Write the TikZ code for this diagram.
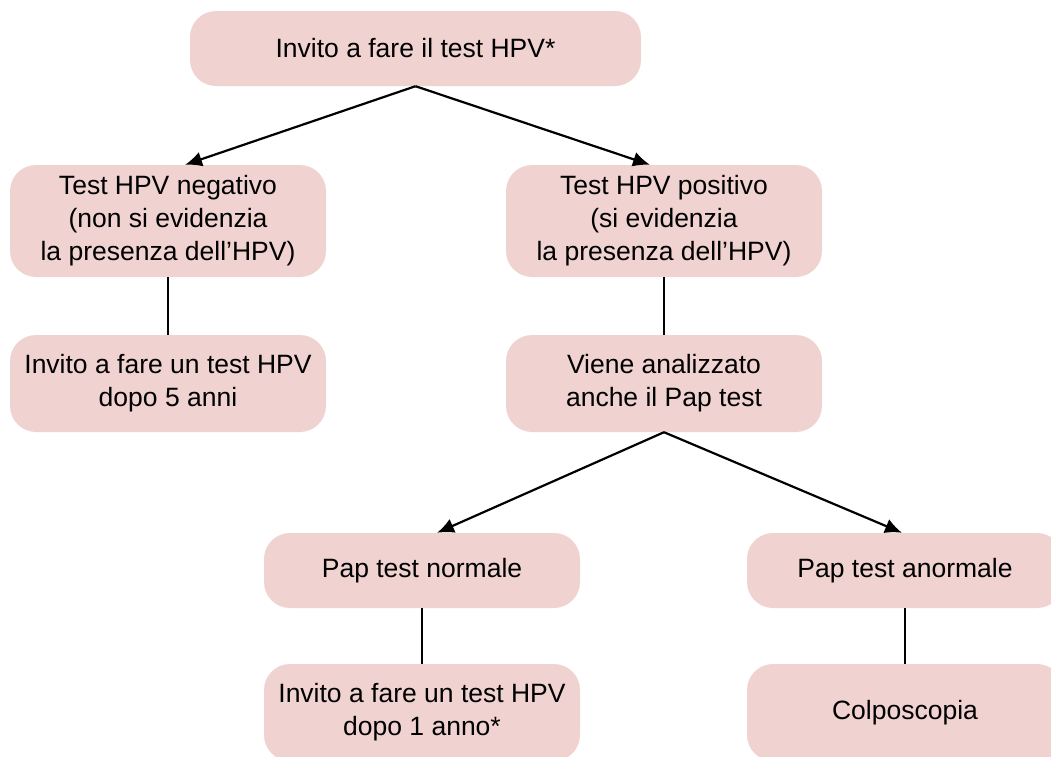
\documentclass[tikz,border=0pt]{standalone}
\usepackage{fontspec}
\setmainfont{Liberation Sans}
\usepackage{xcolor}
\definecolor{boxpink}{RGB}{240,211,209}
\usetikzlibrary{arrows,arrows.meta}

\begin{document}
\begin{tikzpicture}[
	x=1pt, y=-1pt,
	flowbox/.style={rounded corners=26pt, fill=boxpink, minimum width=316pt, inner sep=0, align=center, font=\fontsize{26.5}{33}\selectfont},
	link/.style={line width=2.2pt},
	arr/.style={line width=2.2pt, -{Latex[length=17pt, width=15pt]}}
]
\useasboundingbox (0,0) rectangle (1051,756);

\node[flowbox, minimum width=451pt, minimum height=75pt] (start) at (415.5,48.5) {Invito a fare il test HPV*};
\node[flowbox, minimum height=112pt] (neg) at (168,221) {Test HPV negativo\\(non si evidenzia\\la presenza dell’HPV)};
\node[flowbox, minimum height=112pt] (pos) at (664,221) {Test HPV positivo\\(si evidenzia\\la presenza dell’HPV)};
\node[flowbox, minimum height=97pt] (inv5) at (168,383.5) {Invito a fare un test HPV\\dopo 5 anni};
\node[flowbox, minimum height=97pt] (pap) at (664,383.5) {Viene analizzato\\anche il Pap test};
\node[flowbox, minimum height=75pt] (norm) at (422,570.5) {Pap test normale};
\node[flowbox, minimum height=75pt] (anorm) at (905,570.5) {Pap test anormale};
\node[flowbox, minimum height=97pt] (inv1) at (422,712.5) {Invito a fare un test HPV\\dopo 1 anno*};
\node[flowbox, minimum height=97pt] (colpo) at (905,712.5) {Colposcopia};

\draw [arr] (start.south) -- ([xshift=17pt]neg.north);
\draw [arr] (start.south) -- ([xshift=-14pt]pos.north);
\draw [link] (neg) -- (inv5);
\draw [link] (pos) -- (pap);
\draw [arr] (pap.south) -- ([xshift=15pt]norm.north);
\draw [arr] (pap.south) -- ([xshift=-3pt]anorm.north);
\draw [link] (norm) -- (inv1);
\draw [link] (anorm) -- (colpo);
\end{tikzpicture}
\end{document}
